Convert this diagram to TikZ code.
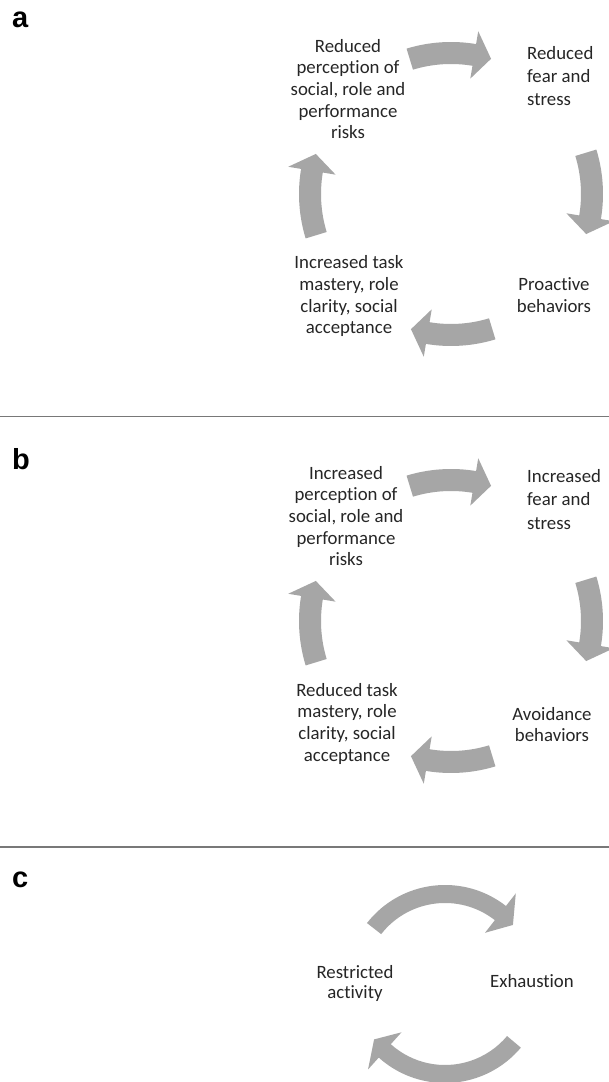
\documentclass[tikz,border=0pt]{standalone}
\usepackage{fontspec}
\setmainfont[Ligatures=NoCommon]{Carlito}
\newfontfamily\panelfont{Liberation Sans}
\usepackage{xcolor}
\definecolor{TxtCol}{RGB}{38,38,38}
\definecolor{ArrCol}{RGB}{166,166,166}
\definecolor{RuleCol}{RGB}{120,120,120}
\usepackage{tikz}
\tikzstyle{Lbl}=[text=TxtCol,inner sep=0pt,align=center,
font=\fontsize{18.8}{21.7}\selectfont]
\tikzstyle{LblR}=[Lbl,align=left,anchor=west,
font=\fontsize{18.8}{23.3}\selectfont]
\tikzstyle{Pan}=[inner sep=0pt,anchor=base west,
font=\panelfont\bfseries\fontsize{29}{29}\selectfont]
\tikzstyle{ArrowFill}=[fill=ArrCol]
\tikzstyle{SepLine}=[draw=RuleCol,line width=1.5pt]
\newcommand{\CycArrow}[7]{%
  \fill[ArrowFill,shift={(#1)}]
    (#5:{#2+#3}) arc[start angle=#5,end angle=#6,radius={#2+#3}]
    -- (#6:{#2+#4}) -- (#7:{#2}) -- (#6:{#2-#4}) -- (#6:{#2-#3})
    arc[start angle=#6,end angle=#5,radius={#2-#3}] -- cycle;}

\begin{document}
\begin{tikzpicture}[x=1pt,y=1pt]
    \useasboundingbox[fill=white](0,0)rectangle(609,1082);
    \node[Pan](pa)at(12,1054){a};
    \node[Pan](pb)at(12,612){b};
    \node[Pan](pc)at(12,194){c};
    \coordinate(s1l)at(0,665.5);
    \coordinate(s1r)at(609,665.5);
    \coordinate(s2l)at(0,235);
    \coordinate(s2r)at(609,235);
    \draw[SepLine](s1l)--(s1r);
    \draw[SepLine](s2l)--(s2r);
    \coordinate(ca)at(451,888);
    \coordinate(cb)at(451,461);
    \coordinate(cc)at(445,98);
    \node[Lbl](a1)at(348,993){Reduced\\perception of\\social, role and\\performance\\risks};
    \node[LblR](a2)at(527,1006){Reduced\\fear and\\stress};
    \node[Lbl](a3)at(554,786.6){Proactive\\behaviors};
    \node[Lbl](a4)at(349,785.7){Increased task\\mastery, role\\clarity, social\\acceptance};
    \CycArrow{ca}{141}{11}{24}{107}{80.5}{73.5}
    \CycArrow{ca}{141}{11}{24}{17}{-9.5}{-16.5}
    \CycArrow{ca}{141}{11}{24}{-73}{-99.5}{-106.5}
    \CycArrow{ca}{141}{11}{24}{197}{170.5}{163.5}
    \node[Lbl](b1)at(346,566){Increased\\perception of\\social, role and\\performance\\risks};
    \node[LblR](b2)at(527,582.6){Increased\\fear and\\stress};
    \node[Lbl](b3)at(552,357.5){Avoidance\\behaviors};
    \node[Lbl](b4)at(347,358.2){Reduced task\\mastery, role\\clarity, social\\acceptance};
    \CycArrow{cb}{141}{11}{24}{107}{80.5}{73.5}
    \CycArrow{cb}{141}{11}{24}{17}{-9.5}{-16.5}
    \CycArrow{cb}{141}{11}{24}{-73}{-99.5}{-106.5}
    \CycArrow{cb}{141}{11}{24}{197}{170.5}{163.5}
    \node[Lbl,font=\fontsize{18.8}{20}\selectfont](c1)at(355,98.4){Restricted\\activity};
    \node[Lbl,anchor=base](c2)at(532,94.6){Exhaustion};
    \CycArrow{cc}{90}{9}{25}{142}{52}{41}
    \CycArrow{cc}{90}{9}{25}{-40}{-132}{-142}
\end{tikzpicture}
\end{document}
